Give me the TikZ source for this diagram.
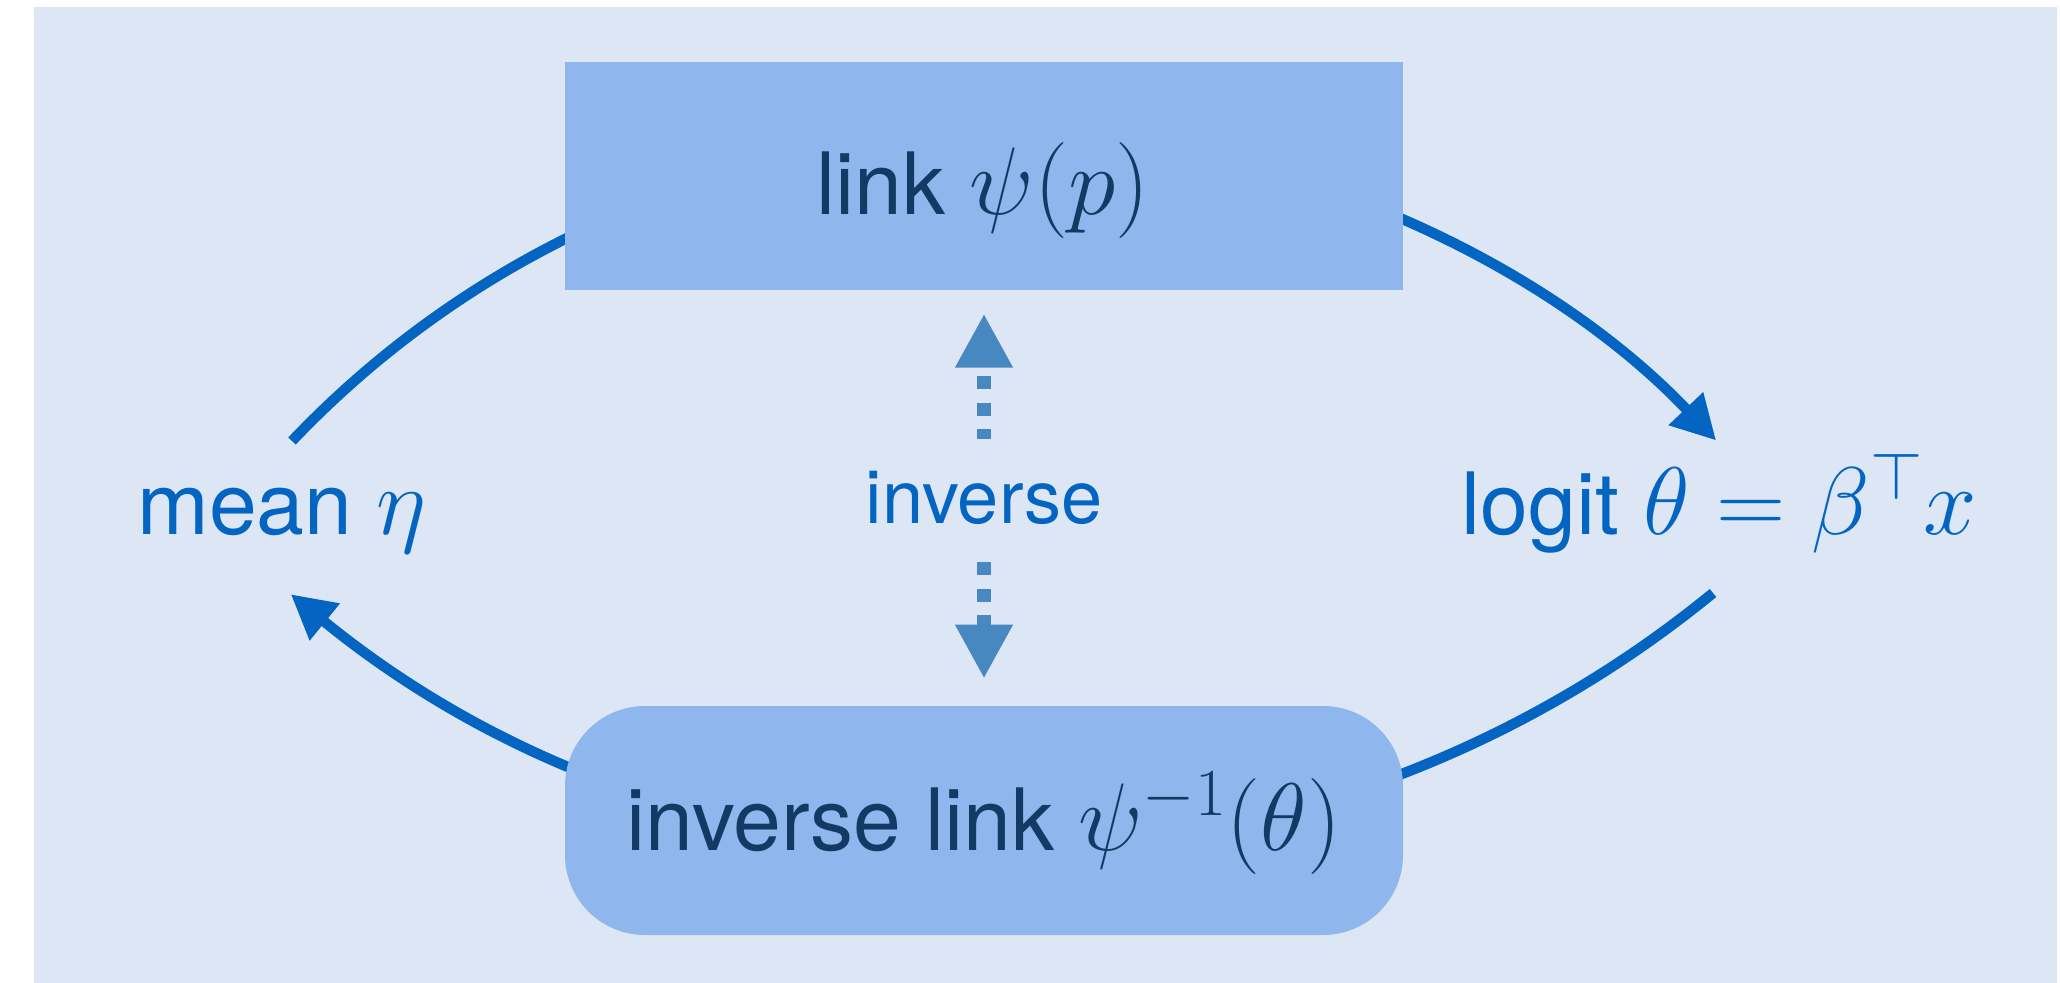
\RequirePackage{fix-cm}
\documentclass[tikz,border=0pt]{standalone}
\usepackage{fontspec}
\setmainfont{TeX Gyre Heros}
\usetikzlibrary{arrows.meta}
\definecolor{bgc}{RGB}{220,230,244}
\definecolor{boxc}{RGB}{143,183,237}
\definecolor{arrc}{RGB}{3,101,193}
\definecolor{dashc}{RGB}{71,136,192}
\definecolor{navy}{RGB}{18,58,100}
\newcommand{\mbig}[1]{{\fontsize{48}{54}\selectfont$#1$}}
\begin{document}
\begin{tikzpicture}[x=0.5pt,y=-0.5pt,
  boxsq/.style={fill=boxc, draw=none, minimum width=419pt, minimum height=114pt, inner sep=0pt},
  boxrd/.style={boxsq, rounded corners=40pt, minimum height=114.5pt},
  boxlbl/.style={text=navy, font=\fontsize{43}{50}\selectfont, anchor=base, inner sep=0pt},
  outlbl/.style={text=arrc, font=\fontsize{43}{50}\selectfont, anchor=base west, inner sep=0pt},
  flow/.style={draw=arrc, line width=5.2pt, -{Triangle[length=22pt,width=22.5pt]}},
  invarr/.style={draw=dashc, line width=6.8pt, dash pattern=on 6.5pt off 6.8pt, dash phase=7.45pt,
    {Triangle[length=27pt,width=27pt]}-{Triangle[length=27pt,width=27pt]},
    shorten <=11.65pt, shorten >=13.5pt},
  invlabel/.style={fill=bgc, inner sep=0pt, minimum height=59pt, text=arrc, font=\fontsize{37}{44}\selectfont},
]
\useasboundingbox (0,0) rectangle (2060,983);
\fill[bgc] (34,7) rectangle (2057,983);

% arc start points
\coordinate (meanout) at (292,441);
\coordinate (logitout) at (1713,593);

% arcs (passing behind the boxes)
\draw[flow] (meanout) arc[start angle=136.44, end angle=43.6, radius=491.5pt];
\draw[flow] (logitout) arc[start angle=-50.7, end angle=-129.2, radius=562pt];

% boxes
\node[boxsq] (link) at (984,176) {};
\node[boxrd] (inv) at (984,820.5) {};
\node[boxlbl] (linklbl) at (983,215) {link \mbig{\psi(p)}};
\node[boxlbl] (invlbl) at (984,850) {inverse link \mbig{\psi^{-1}(\theta)}};

% outer labels
\node[outlbl] (mean) at (137,534) {mean \mbig{\eta}};
\node[outlbl] (logit) at (1461,534) {logit \mbig{\theta = \beta^\top x}};

% inverse dashed double arrow
\draw[invarr] (link.south) -- node[invlabel] (invtxt) {inverse} (inv.north);
\end{tikzpicture}
\end{document}
